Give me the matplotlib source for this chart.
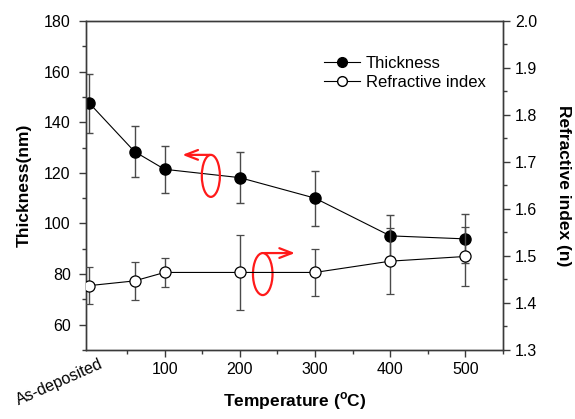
import matplotlib
matplotlib.use("Agg")
import matplotlib.pyplot as plt
from matplotlib.lines import Line2D
from matplotlib.patches import Ellipse
from matplotlib.ticker import FixedLocator, MultipleLocator

plt.rcParams["font.family"] = ["Liberation Sans", "DejaVu Sans"]
plt.rcParams["mathtext.fontset"] = "custom"
plt.rcParams["mathtext.rm"] = "Liberation Sans"
plt.rcParams["mathtext.bf"] = "Liberation Sans:bold"

# 데이터
temperature = [0, 60, 100, 200, 300, 400, 500]
thickness = [147.5, 128.4, 121.4, 118.1, 110.0, 95.1, 93.9]
thickness_err = [11.6, 10.0, 9.3, 10.2, 10.9, 8.3, 9.7]
ref_index = [1.437, 1.447, 1.465, 1.465, 1.465, 1.489, 1.499]
ref_index_err = [0.040, 0.040, 0.030, 0.080, 0.050, 0.070, 0.062]

AX_COLOR = "#3a3a3a"
ERR_COLOR = "#4a4a4a"

fig = plt.figure(figsize=(5.75, 4.19), dpi=100)
ax = fig.add_axes([0.1496, 0.1647, 0.7252, 0.7852])
ax2 = ax.twinx()

ax.errorbar(temperature, thickness, yerr=thickness_err, fmt="o-",
            color="black", ms=8, lw=0.8, ecolor=ERR_COLOR, elinewidth=1.0,
            capsize=3, capthick=1.0, zorder=3)
ax2.errorbar(temperature, ref_index, yerr=ref_index_err, fmt="o-",
             color="black", mfc="white", mec="black", mew=0.9, ms=8, lw=0.8,
             ecolor=ERR_COLOR, elinewidth=1.0, capsize=3, capthick=1.0, zorder=3)

ax.set_xlim(-4.5, 550)
ax.set_ylim(50, 180)
ax2.set_ylim(1.3, 2.0)

ax.xaxis.set_major_locator(FixedLocator([100, 200, 300, 400, 500]))
ax.xaxis.set_minor_locator(FixedLocator([50, 150, 250, 350, 450, 550]))
ax.yaxis.set_major_locator(FixedLocator([60, 80, 100, 120, 140, 160, 180]))
ax.yaxis.set_minor_locator(MultipleLocator(10))
ax2.yaxis.set_major_locator(MultipleLocator(0.1))
ax2.yaxis.set_minor_locator(MultipleLocator(0.05))

for a in (ax, ax2):
    for s in a.spines.values():
        s.set_color(AX_COLOR)
        s.set_linewidth(1.0)
    a.tick_params(which="major", length=5, width=1.0, color=AX_COLOR,
                  labelsize=11.5, labelcolor="black")
    a.tick_params(which="minor", length=3, width=1.0, color=AX_COLOR)
ax.tick_params(axis="y", pad=6)

ax.set_ylabel("Thickness(nm)", fontsize=12.5, fontweight="bold", labelpad=9)
ax2.set_ylabel("Refractive index (n)", fontsize=12.5, fontweight="bold",
               rotation=270, labelpad=24)
ax.set_xlabel(r"Temperature ($^{\mathbf{o}}$C)", fontsize=12.5,
              fontweight="bold", labelpad=10)

fig.text(0.104, 0.088, "As-deposited", rotation=24, ha="center", va="center",
         fontsize=11.5)

# 빨간 화살표 + 타원 (축 방향 표시)
red = "#ff1a1a"
ax.add_patch(Ellipse((161.5, 118.8), 24, 16.6, fill=False, ec=red, lw=1.6, zorder=4))
ax.annotate("", xy=(120, 127.1), xytext=(164, 127.1),
            arrowprops=dict(arrowstyle="->,head_length=0.9,head_width=0.35",
                            color=red, lw=1.6), zorder=4)
ax.add_patch(Ellipse((230.5, 80.0), 26, 16.6, fill=False, ec=red, lw=1.6, zorder=4))
ax.annotate("", xy=(277, 88.3), xytext=(229, 88.3),
            arrowprops=dict(arrowstyle="->,head_length=0.9,head_width=0.35",
                            color=red, lw=1.6), zorder=4)

# 범례: 오차막대 없이 선 + 마커만
h1 = Line2D([], [], color="black", lw=0.8, marker="o", ms=7)
h2 = Line2D([], [], color="black", lw=0.8, marker="o", ms=7, mfc="white")
ax.legend([h1, h2], ["Thickness", "Refractive index"], loc="upper right",
          bbox_to_anchor=(0.995, 0.94), frameon=False, fontsize=12,
          handlelength=2.2, handletextpad=0.35, labelspacing=0.25)

fig.savefig("out.png", dpi=100, facecolor="white")
